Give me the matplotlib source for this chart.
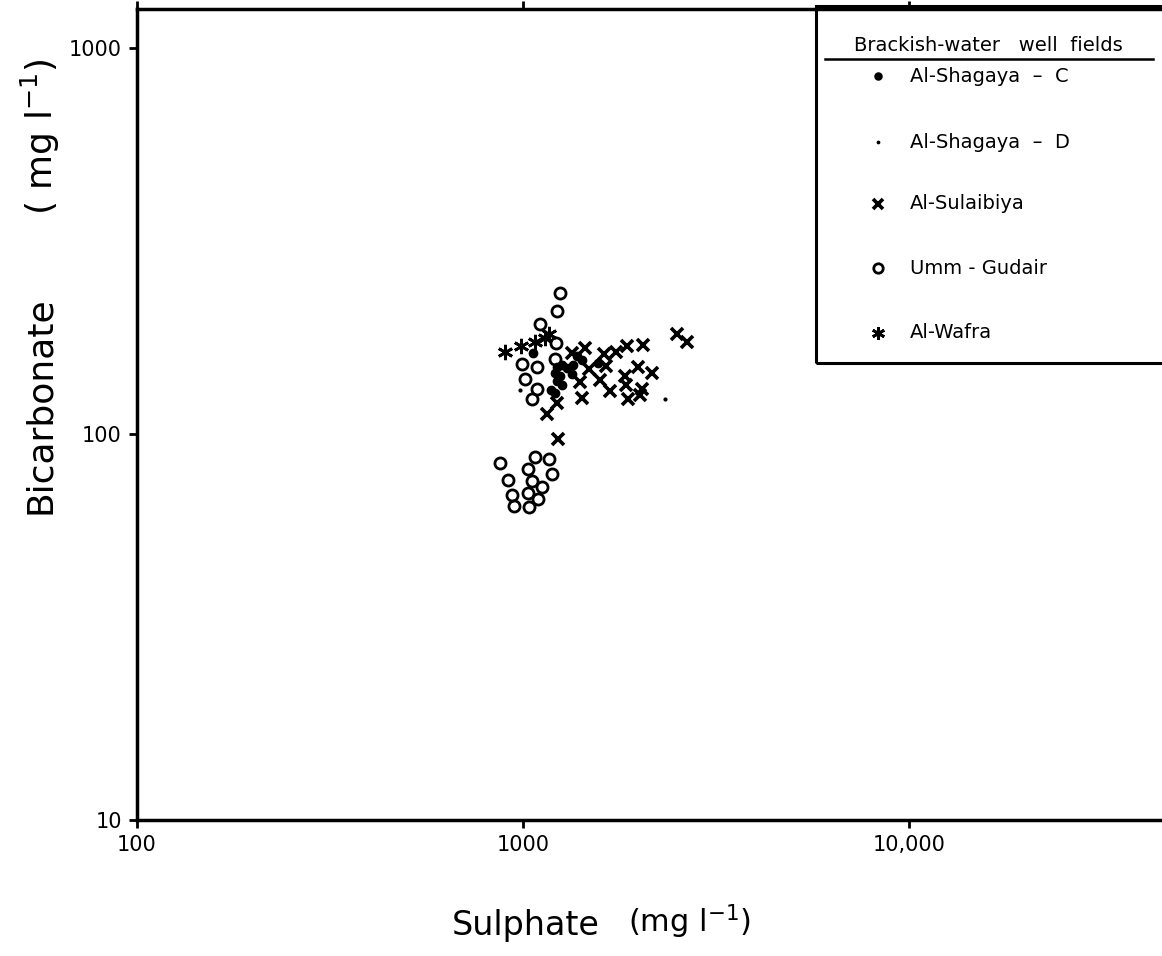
import matplotlib
matplotlib.use('Agg')
import matplotlib.pyplot as plt
from matplotlib.patches import Rectangle
from matplotlib.lines import Line2D

plt.rcParams['font.family'] = ['DejaVu Sans']

# ---- data (mg/l) ----
shagaya_c_so4 = [1063, 1222, 1260, 1298, 1350, 1210, 1247, 1337, 1222, 1260,
                 1179, 1210, 1378, 1420, 1567]
shagaya_c_hco3 = [162, 149, 151, 148, 151, 144, 141, 143, 137, 134,
                  130, 127.5, 159, 155.5, 152.5]

shagaya_d_so4 = [982, 2333]
shagaya_d_hco3 = [130, 123]

sulaibiya_so4 = [1448, 1337, 1621, 1742, 1863, 2042, 2510, 2664, 1641, 1485,
                 1983, 2154, 1838, 1583, 1405, 1849, 2031, 1680, 2010, 1874,
                 1420, 1227, 1152, 1232]
sulaibiya_hco3 = [167, 162, 161, 163, 169, 170, 182, 173, 150, 147,
                  149, 144, 141, 138, 136, 134, 131, 129, 126, 123,
                  124, 120, 113, 97]

umm_gudair_so4 = [1247, 1222, 1109, 1220, 1210, 996, 1085, 1012, 1089, 1053,
                  872, 1074, 1168, 1028, 1191, 916, 1053, 1122, 938, 1028,
                  1096, 948, 1036]
umm_gudair_hco3 = [232, 208, 193, 172, 156, 152, 149, 139, 131, 123,
                   84, 87, 86, 81, 79, 76, 75.5, 73, 69.5, 70.5,
                   68, 65, 64.6]

wafra_so4 = [898, 986, 1074, 1168, 1140]
wafra_hco3 = [163, 169, 173, 182, 177]

x_ticks = [100, 1000, 10000]
x_ticklabels = ['100', '1000', '10,000']
y_ticks = [10, 100, 1000]
y_ticklabels = ['10', '100', '1000']

legend_labels = ['Al-Shagaya  \u2013  C', 'Al-Shagaya  \u2013  D', 'Al-Sulaibiya',
                 'Umm - Gudair', 'Al-Wafra']

fig = plt.figure(figsize=(11.62, 9.56), dpi=100)
ax = fig.add_axes([137 / 1162, 1 - 820 / 956, 1025 / 1162, 811 / 956])

asterisk = (6, 2, 0)
styles = [
    dict(marker='o', ms=6, color='black', ls='none'),
    dict(marker='.', ms=4, color='black', ls='none'),
    dict(marker='x', ms=8, mew=2.6, color='black', ls='none'),
    dict(marker='o', ms=8, mew=2.0, mfc='none', mec='black', ls='none'),
    dict(marker=asterisk, ms=11, mew=2.0, color='black', ls='none'),
]

ax.plot(umm_gudair_so4, umm_gudair_hco3, **styles[3])
ax.plot(sulaibiya_so4, sulaibiya_hco3, **styles[2])
ax.plot(wafra_so4, wafra_hco3, **styles[4])
ax.plot(shagaya_c_so4, shagaya_c_hco3, **styles[0])
ax.plot(shagaya_d_so4, shagaya_d_hco3, **styles[1])

ax.set_xscale('log')
ax.set_yscale('log')
ax.set_xlim(100, 45200)
ax.set_ylim(10, 1262)
ax.set_xticks(x_ticks)
ax.set_xticklabels(x_ticklabels)
ax.set_yticks(y_ticks)
ax.set_yticklabels(y_ticklabels)
ax.minorticks_off()
ax.tick_params(axis='both', direction='out', length=6, width=2, labelsize=15, pad=5)
ax.tick_params(axis='x', top=True)
for side in ['left', 'bottom', 'top']:
    ax.spines[side].set_linewidth(2.5)
ax.spines['right'].set_visible(False)

# legend box drawn by hand (box, underlined title, entries)
ax.add_patch(Rectangle((0.6624, 0.5635), 0.34, 0.44, transform=ax.transAxes,
                       fill=False, lw=2.2, ec='black', clip_on=False))
ax.text(0.831, 0.9556, 'Brackish-water   well  fields', transform=ax.transAxes,
        ha='center', va='center', fontsize=14)
ax.add_line(Line2D([0.671, 0.991], [0.9384, 0.9384], transform=ax.transAxes,
                   color='black', lw=1.8))
legend_y = [0.917, 0.836, 0.7596, 0.6806, 0.6005]
for st, lab, ly in zip(styles, legend_labels, legend_y):
    st2 = dict(st)
    st2['ms'] = st2['ms'] * 0.85
    ax.plot([0.7229], [ly], transform=ax.transAxes, clip_on=False, **st2)
    ax.text(0.754, ly, lab, transform=ax.transAxes, ha='left', va='center',
            fontsize=14)

# axis titles, split so the unit part sits where it does in the original
fig.text(526 / 1162, 1 - 925 / 956, 'Sulphate', ha='center', va='center', fontsize=24)
fig.text(690 / 1162, 1 - 922 / 956, '(mg l$^{-1}$)', ha='center', va='center', fontsize=22)
fig.text(40 / 1162, 1 - 405 / 956, 'Bicarbonate', ha='center', va='center',
         rotation=90, fontsize=26)
fig.text(40 / 1162, 1 - 137 / 956, '( mg l$^{-1}$)', ha='center', va='center',
         rotation=90, fontsize=26)

fig.savefig('out.png', dpi=100)
